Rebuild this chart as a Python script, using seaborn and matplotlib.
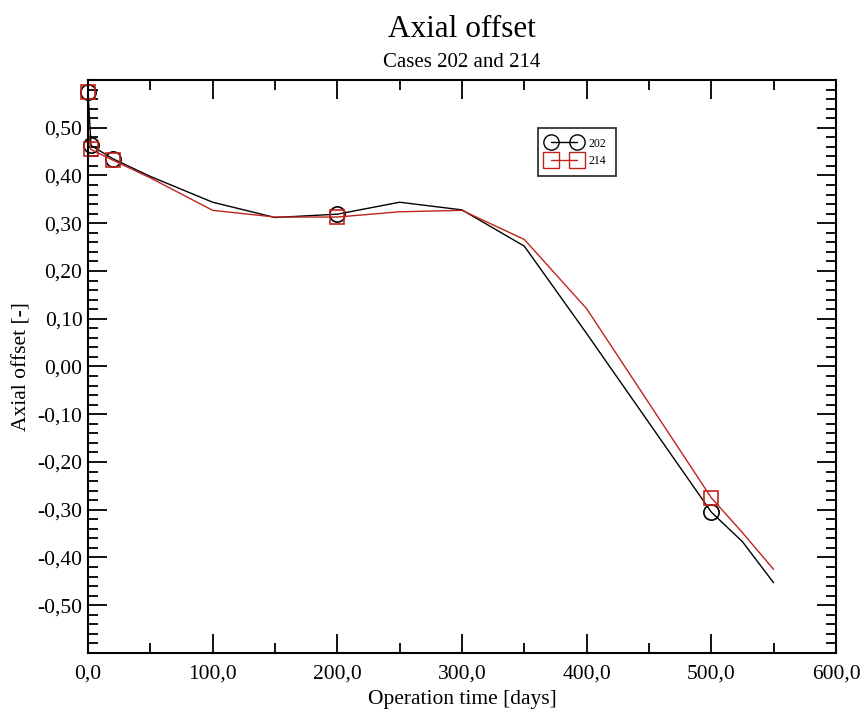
import numpy as np
import pandas as pd
import matplotlib
matplotlib.use("Agg")
import matplotlib.pyplot as plt
from matplotlib.lines import Line2D
from matplotlib.ticker import MultipleLocator, FuncFormatter
import seaborn as sns

# values
days_202 = [0, 2.4, 20, 50, 100, 150, 200, 250, 300, 350, 400, 450, 500, 525, 550]
ao_202 = [0.575, 0.463, 0.435, 0.398, 0.344, 0.312, 0.319, 0.344, 0.328, 0.252, 0.069,
          -0.118, -0.305, -0.367, -0.453]
marks_202 = [0, 1, 2, 6, 12]

days_214 = [0, 0.4, 2, 20, 50, 100, 150, 200, 250, 300, 350, 400, 450, 500, 525, 550]
ao_214 = [0.575, 0.49, 0.455, 0.432, 0.395, 0.327, 0.313, 0.313, 0.324, 0.327, 0.266,
          0.121, -0.077, -0.275, -0.348, -0.425]
marks_214 = [0, 2, 3, 7, 13]

df202 = pd.DataFrame({"days": days_202, "ao": ao_202})
df214 = pd.DataFrame({"days": days_214, "ao": ao_214})

sns.set_style("ticks")
plt.rcParams['font.family'] = ['Liberation Serif', 'DejaVu Serif']
plt.rcParams['text.color'] = 'black'
plt.rcParams['axes.labelcolor'] = 'black'

fig = plt.figure(figsize=(8.62, 7.13), dpi=100)
ax = fig.add_axes([0.1021, 0.0842, 0.8677, 0.8036])

sns.lineplot(data=df202, x="days", y="ao", ax=ax, sort=False, estimator=None,
             color="black", lw=1.0, marker="o", markersize=11, mfc="none",
             mec="black", mew=1.2, markevery=marks_202, clip_on=False)
sns.lineplot(data=df214, x="days", y="ao", ax=ax, sort=False, estimator=None,
             color="#c0221c", lw=1.0, marker="s", markersize=10, mfc="none",
             mec="#c0221c", mew=1.2, markevery=marks_214, clip_on=False)

ax.set_xlim(0, 600)
ax.set_ylim(-0.6, 0.6)
ax.xaxis.set_major_locator(MultipleLocator(100))
ax.xaxis.set_minor_locator(MultipleLocator(50))
ax.yaxis.set_major_locator(MultipleLocator(0.1))
ax.yaxis.set_minor_locator(MultipleLocator(0.02))

def fmt_x(v, pos):
    return f"{v:.1f}".replace(".", ",")

def fmt_y(v, pos):
    if abs(v) > 0.55:
        return ""
    if abs(v) < 1e-9:
        v = 0.0
    return f"{v:.2f}".replace(".", ",")

ax.xaxis.set_major_formatter(FuncFormatter(fmt_x))
ax.yaxis.set_major_formatter(FuncFormatter(fmt_y))
ax.tick_params(which="both", direction="in", top=True, right=True, width=1.3,
               labelsize=15.5, colors="black")
ax.tick_params(which="major", length=14)
ax.tick_params(which="minor", length=7)
ax.tick_params(axis="x", which="major", pad=8)
ax.tick_params(axis="y", which="major", pad=4)
for s in ax.spines.values():
    s.set_visible(True)
    s.set_linewidth(1.5)
    s.set_color("black")

ax.set_xlabel("Operation time [days]", fontsize=15.5, labelpad=5)
ax.set_ylabel("Axial offset [-]", fontsize=15.5, labelpad=4)

xc = 0.1021 + 0.8677 / 2
fig.text(xc, 0.959, "Axial offset", ha="center", va="center", fontsize=22.5)
fig.text(xc, 0.913, "Cases 202 and 214", ha="center", va="center", fontsize=15)

handles = [
    Line2D([], [], color="black", lw=1.0, marker="o", markersize=11, mfc="none", mec="black"),
    Line2D([], [], color="#c0221c", lw=1.0, marker="s", markersize=11, mfc="none", mec="#c0221c"),
]
leg = ax.legend(handles, ["202", "214"], loc="upper left", bbox_to_anchor=(0.6016, 0.916),
                borderaxespad=0, numpoints=2, fontsize=8.5, frameon=True, fancybox=False,
                handlelength=2.8, borderpad=0.8, labelspacing=0.45, handletextpad=0.7)
leg.get_frame().set_edgecolor("black")
leg.get_frame().set_linewidth(1.3)

fig.savefig("out.png", dpi=100)
